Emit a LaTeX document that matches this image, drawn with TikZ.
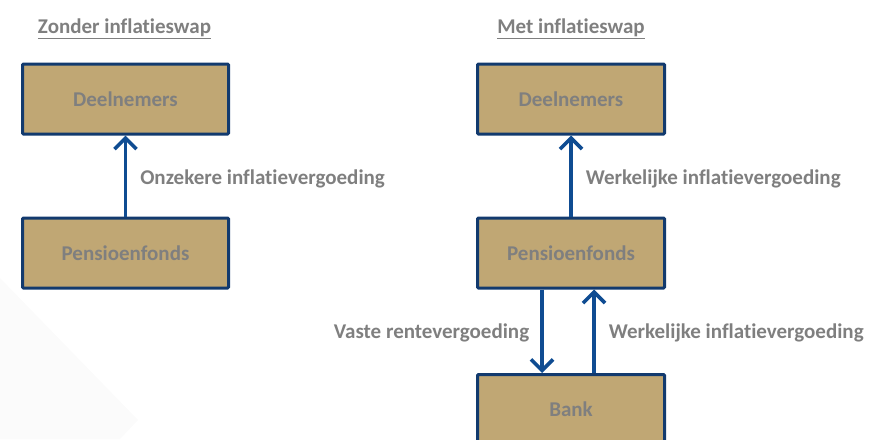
\documentclass[tikz,border=0pt]{standalone}
\usepackage{fontspec}
\setmainfont{Carlito}[RawFeature={-liga}]
\usetikzlibrary{%
  arrows.meta
}
\definecolor{boxfill}{HTML}{C0A774}
\definecolor{boxline}{HTML}{123A6E}
\definecolor{flowblue}{HTML}{0F4C92}
\definecolor{txtgray}{HTML}{7F7F7F}
\tikzset{
  party/.style={draw=boxline, line width=3pt, fill=boxfill, rounded corners=1pt,
    minimum height=70pt, text=txtgray, font=\bfseries\fontsize{21}{24}\selectfont},
  flow/.style={draw=flowblue, line width=3.6pt,
    -{Straight Barb[length=11pt,width=22pt,line width=3.6pt]}},
  flowlabel/.style={text=txtgray, font=\bfseries\fontsize{21}{24}\selectfont, inner sep=0pt},
  heading/.style={text=txtgray, font=\bfseries\fontsize{21}{24}\selectfont, inner sep=0pt},
}

\begin{document}
\begin{tikzpicture}[x=1pt,y=-1pt]
\useasboundingbox (0,0) rectangle (874,439);
\def\leftW{206}
\def\rightW{187}
%%%background
\fill[gray!3] (0,278) -- (138,420) -- (120,439) -- (0,439) -- cycle;

%%%zonder inflatieswap
\node[heading] (titleA) at (124.5,29) {\underline{Zonder inflatieswap}};
\node[party, minimum width=\leftW] (deelA) at (125.5,99) {Deelnemers};
\node[party, minimum width=\leftW] (pfA) at (125.5,253) {Pensioenfonds};
\draw[flow] (pfA) -- (deelA) node[midway, right=13pt, yshift=-3pt, flowlabel] {Onzekere inflatievergoeding};

%%%met inflatieswap
\node[heading] (titleB) at (571,29) {\underline{Met inflatieswap}};
\node[party, minimum width=\rightW] (deelB) at (571,99) {Deelnemers};
\node[party, minimum width=\rightW] (pfB) at (571,253) {Pensioenfonds};
\node[party, minimum width=\rightW] (bank) at (571,409.5) {Bank};
\draw[flow] (pfB) -- (deelB) node[midway, right=13pt, yshift=-3pt, flowlabel] {Werkelijke inflatievergoeding};

%% swap flows
\draw[flow] ([xshift=-29pt]pfB.south) -- ([xshift=-29pt]bank.north) node[midway, left=11pt, yshift=-2pt, flowlabel] {Vaste rentevergoeding};
\draw[flow] ([xshift=23pt]bank.north) -- ([xshift=23pt]pfB.south) node[midway, right=13pt, yshift=-2pt, flowlabel] {Werkelijke inflatievergoeding};

\end{tikzpicture}
\end{document}
